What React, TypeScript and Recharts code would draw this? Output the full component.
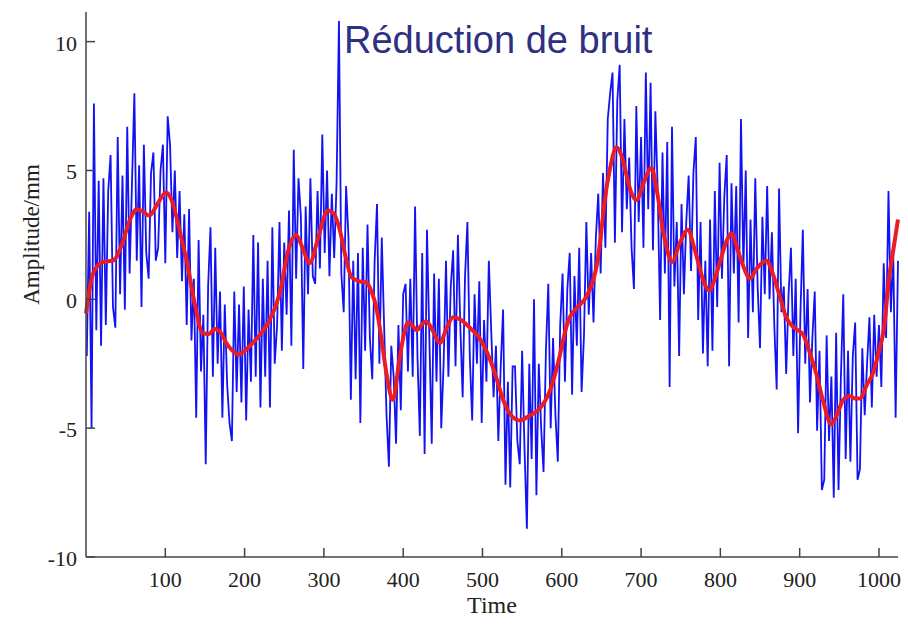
import { LineChart, Line, XAxis, YAxis } from "recharts";

// raw signal, sampled every 3 time units starting at t = 1
const BLUE_START = 1;
const BLUE_STEP = 3;
const rawAmplitude = [
  -2.2, 3.4, -5.0, 7.6, -1.2, 4.6, -1.8, 4.7, -1.0, 4.2,
  5.6, -0.3, -1.1, 6.3, 0.2, 4.8, -0.4, 6.7, 1.0, 4.5,
  8.0, 1.5, 5.2, -0.3, 6.0, 1.8, 0.8, 4.9, 5.7, 1.5,
  2.0, 5.0, 6.0, 1.4, 7.1, 6.0, 2.6, 5.0, 1.6, 4.2,
  0.7, 3.3, -1.0, 3.5, -1.6, 0.8, -4.6, 2.3, -2.8, -0.6,
  -6.4, 0.5, 2.8, -3.0, 2.0, -2.5, 0.3, -4.6, -0.2, -3.3,
  -4.8, -5.5, 0.3, -3.6, -0.2, -4.0, 0.5, -4.7, -0.4, -3.2,
  2.5, -3.0, 2.2, -4.2, 0.8, -3.0, 1.5, -4.2, 2.8, -2.5,
  -1.0, 3.0, -2.0, 2.2, -0.6, 3.45, -1.8, 5.8, 0.8, 4.7,
  3.2, -2.7, 3.6, 0.2, 4.7, 0.9, 0.6, 4.2, 1.2, 6.4,
  1.8, 5.0, 0.9, 4.1, 1.6, 4.5, 10.8, 1.0, -0.5, 4.4,
  2.4, -3.9, 1.5, -3.1, 1.8, -4.8, 2.0, -2.0, 2.9, -1.5,
  -3.1, 1.5, 3.7, -2.5, 2.4, -1.1, -4.5, -6.5, -1.8, -3.0,
  -5.6, -1.0, -4.3, 0.2, 0.6, -2.8, 0.8, -3.0, 3.6, -2.2,
  -5.3, 1.8, -6.0, 2.7, -1.5, -5.6, 1.0, -3.2, 0.8, -5.0,
  -2.5, 1.5, -3.0, 0.5, 1.9, -2.6, 2.5, -1.0, -3.8, 0.9,
  3.0, -2.2, -4.7, 0.2, -2.5, 0.7, -4.8, -0.8, -3.2, 1.5,
  -1.2, -3.8, -1.8, -5.5, -2.6, -0.4, -7.2, -3.2, -7.3, -2.6,
  -2.6, -5.5, -6.4, -2.0, -5.8, -8.9, -2.5, -6.2, 0.0, -7.6,
  -2.5, -5.0, -6.7, -2.0, 0.6, -5.0, -1.5, -4.5, -6.3, -1.0,
  1.0, -3.2, 0.4, 1.8, -3.7, 0.9, -1.8, 2.0, -3.6, -1.4,
  3.0, -0.6, 1.8, -0.9, 2.4, 4.1, 1.0, 4.9, 2.0, 7.0,
  8.0, 8.8, 2.2, 7.7, 9.1, 2.6, 7.0, 3.5, 5.5, 2.0,
  0.4, 7.5, 3.0, 6.3, 2.0, 8.8, 3.5, 8.4, 1.9, 7.3,
  4.2, -0.8, 5.7, 1.0, 6.1, -3.4, 6.7, 0.5, 3.0, -2.2,
  3.7, 0.2, 3.0, 4.8, 1.1, 4.9, 6.3, -0.8, 3.0, -2.1,
  1.5, -2.6, 3.1, -2.0, 4.2, -0.3, 5.3, 0.8, 4.0, 5.6,
  -2.6, 4.5, 1.0, 4.4, -0.9, 7.0, 1.2, 5.0, -1.5, 3.1,
  -0.5, 4.7, 0.5, -1.9, 3.2, 0.2, 4.4, 0.0, 2.6, -1.0,
  -3.5, 4.3, -0.5, 0.5, -2.9, 0.2, 2.0, -2.2, 0.8, -5.2,
  -0.5, 2.7, -2.5, 0.4, -4.0, -1.5, 0.3, -5.1, -2.0, -7.4,
  -7.0, -1.4, -5.5, -3.0, -7.7, -1.3, -7.4, -3.0, 0.2, -6.2,
  -2.0, -6.3, -2.2, -0.9, -7.0, -6.6, -1.9, -4.5, -2.5, -0.7,
  -4.2, -0.6, -3.0, -1.0, -3.4, 1.4, -1.5, 4.2, -0.5, 1.8, -4.6, 1.5,
];

// denoised curve
const denoisedTime = [
  0, 9, 21, 34, 45, 55, 64, 72, 80, 90, 101, 108, 114, 120, 127, 137, 147, 155, 162, 170,
  177, 185, 192, 200, 210, 220, 231, 244, 256, 265, 273, 282, 292, 305, 313, 320, 327, 335, 345, 354,
  360, 366, 372, 379, 387, 395, 400, 406, 411, 417, 423, 429, 437, 446, 455, 463, 473, 484, 496, 509,
  518, 526, 536, 547, 560, 572, 585, 597, 603, 610, 620, 631, 638, 644, 649, 654, 661, 669, 675, 681,
  687, 694, 703, 713, 720, 727, 733, 739, 749, 759, 767, 774, 780, 786, 793, 800, 807, 814, 822, 830,
  837, 846, 858, 866, 875, 883, 893, 904, 912, 921, 930, 940, 948, 955, 963, 970, 976, 985, 992, 1000,
  1006, 1013, 1018, 1024,
];
const denoisedAmplitude = [
  -0.55, 1.0, 1.45, 1.5, 2.1, 3.05, 3.5, 3.4, 3.25, 3.7, 4.15, 3.85, 3.2, 2.4, 1.5, -0.15, -1.3, -1.35, -1.15, -1.3,
  -1.7, -2.0, -2.15, -2.0, -1.7, -1.35, -0.85, 0.2, 2.0, 2.5, 2.0, 1.4, 2.3, 3.45, 3.3, 2.7, 1.7, 0.85, 0.7, 0.65,
  0.3, -0.3, -1.4, -2.9, -3.9, -2.4, -1.5, -0.9, -1.0, -1.2, -1.0, -0.85, -1.2, -1.7, -1.1, -0.7, -0.8, -1.1, -1.5, -2.3,
  -3.1, -3.9, -4.5, -4.7, -4.5, -4.25, -3.55, -2.25, -1.4, -0.7, -0.3, 0.1, 0.6, 1.3, 2.4, 3.8, 5.1, 5.9, 5.6, 4.9,
  4.2, 3.85, 4.5, 5.1, 4.2, 2.8, 1.9, 1.45, 2.2, 2.7, 2.0, 1.2, 0.6, 0.35, 0.8, 1.5, 2.2, 2.55, 1.9, 1.2,
  0.8, 1.2, 1.5, 1.0, 0.1, -0.7, -1.1, -1.35, -2.0, -2.9, -4.0, -4.85, -4.4, -3.9, -3.75, -3.85, -3.85, -3.3, -2.9, -2.0,
  -1.2, 0.9, 1.9, 3.1,
];

const xTicks = [100, 200, 300, 400, 500, 600, 700, 800, 900, 1000];
const yTicks = [-10, -5, 0, 5, 10];

const noisy = rawAmplitude.map((v, i) => ({ t: BLUE_START + i * BLUE_STEP, v }));
const smooth = denoisedTime.map((t, i) => ({ t, v: denoisedAmplitude[i] }));

const SERIF = '"Liberation Serif", "Times New Roman", serif';
const AXIS = "#444";
const TEXT = "#222";

function XTick({ x, y, payload }: any) {
  return (
    <g>
      <line x1={x} y1={y} x2={x} y2={y - 9} stroke={AXIS} strokeWidth={1.5} />
      <text x={x} y={y + 30} textAnchor="middle" fontSize={22} fill={TEXT} fontFamily={SERIF}>
        {payload.value}
      </text>
    </g>
  );
}

function YTick({ x, y, payload }: any) {
  return (
    <g>
      <line x1={x} y1={y} x2={x + 9} y2={y} stroke={AXIS} strokeWidth={1.5} />
      <text x={x - 9} y={y + 9} textAnchor="end" fontSize={22} fill={TEXT} fontFamily={SERIF}>
        {payload.value}
      </text>
    </g>
  );
}

function YTitle(props: any) {
  const vb = props.viewBox ?? { x: 0, y: 12, width: 86, height: 545 };
  const cx = vb.x + 39;
  const cy = vb.y + vb.height / 2 - 50;
  return (
    <text
      x={cx}
      y={cy}
      transform={`rotate(-90 ${cx} ${cy})`}
      textAnchor="middle"
      fontSize={23}
      fill={TEXT}
      fontFamily={SERIF}
    >
      Amplitude/mm
    </text>
  );
}

export default function App() {
  return (
    <div style={{ position: "absolute", left: 0, top: 0, width: 908, height: 627, background: "#fff" }}>
      <LineChart width={908} height={627} margin={{ top: 12, right: 10, bottom: 0, left: 0 }}>
        <XAxis
          type="number"
          dataKey="t"
          domain={[0, 1024]}
          ticks={xTicks}
          height={70}
          tickSize={0}
          tickMargin={0}
          tick={<XTick />}
          axisLine={{ stroke: AXIS, strokeWidth: 1.5 }}
          label={{ value: "Time", position: "insideBottom", offset: 14, fontSize: 24, fill: TEXT, fontFamily: SERIF }}
        />
        <YAxis
          type="number"
          domain={[-10, 11.15]}
          ticks={yTicks}
          width={86}
          allowDataOverflow
          tickSize={0}
          tickMargin={0}
          tick={<YTick />}
          axisLine={{ stroke: AXIS, strokeWidth: 1.5 }}
          label={YTitle}
        />
        <Line
          data={noisy}
          dataKey="v"
          type="linear"
          stroke="#1212f2"
          strokeWidth={1.8}
          dot={false}
          isAnimationActive={false}
        />
        <Line
          data={smooth}
          dataKey="v"
          type="monotone"
          stroke="#ec1c24"
          strokeWidth={4}
          dot={false}
          isAnimationActive={false}
        />
      </LineChart>
      <div
        style={{
          position: "absolute",
          left: 344,
          top: 21,
          fontFamily: '"Liberation Sans", Arial, sans-serif',
          fontSize: 38,
          lineHeight: "38px",
          color: "#2e3082",
          whiteSpace: "nowrap",
        }}
      >
        Réduction de bruit
      </div>
    </div>
  );
}
